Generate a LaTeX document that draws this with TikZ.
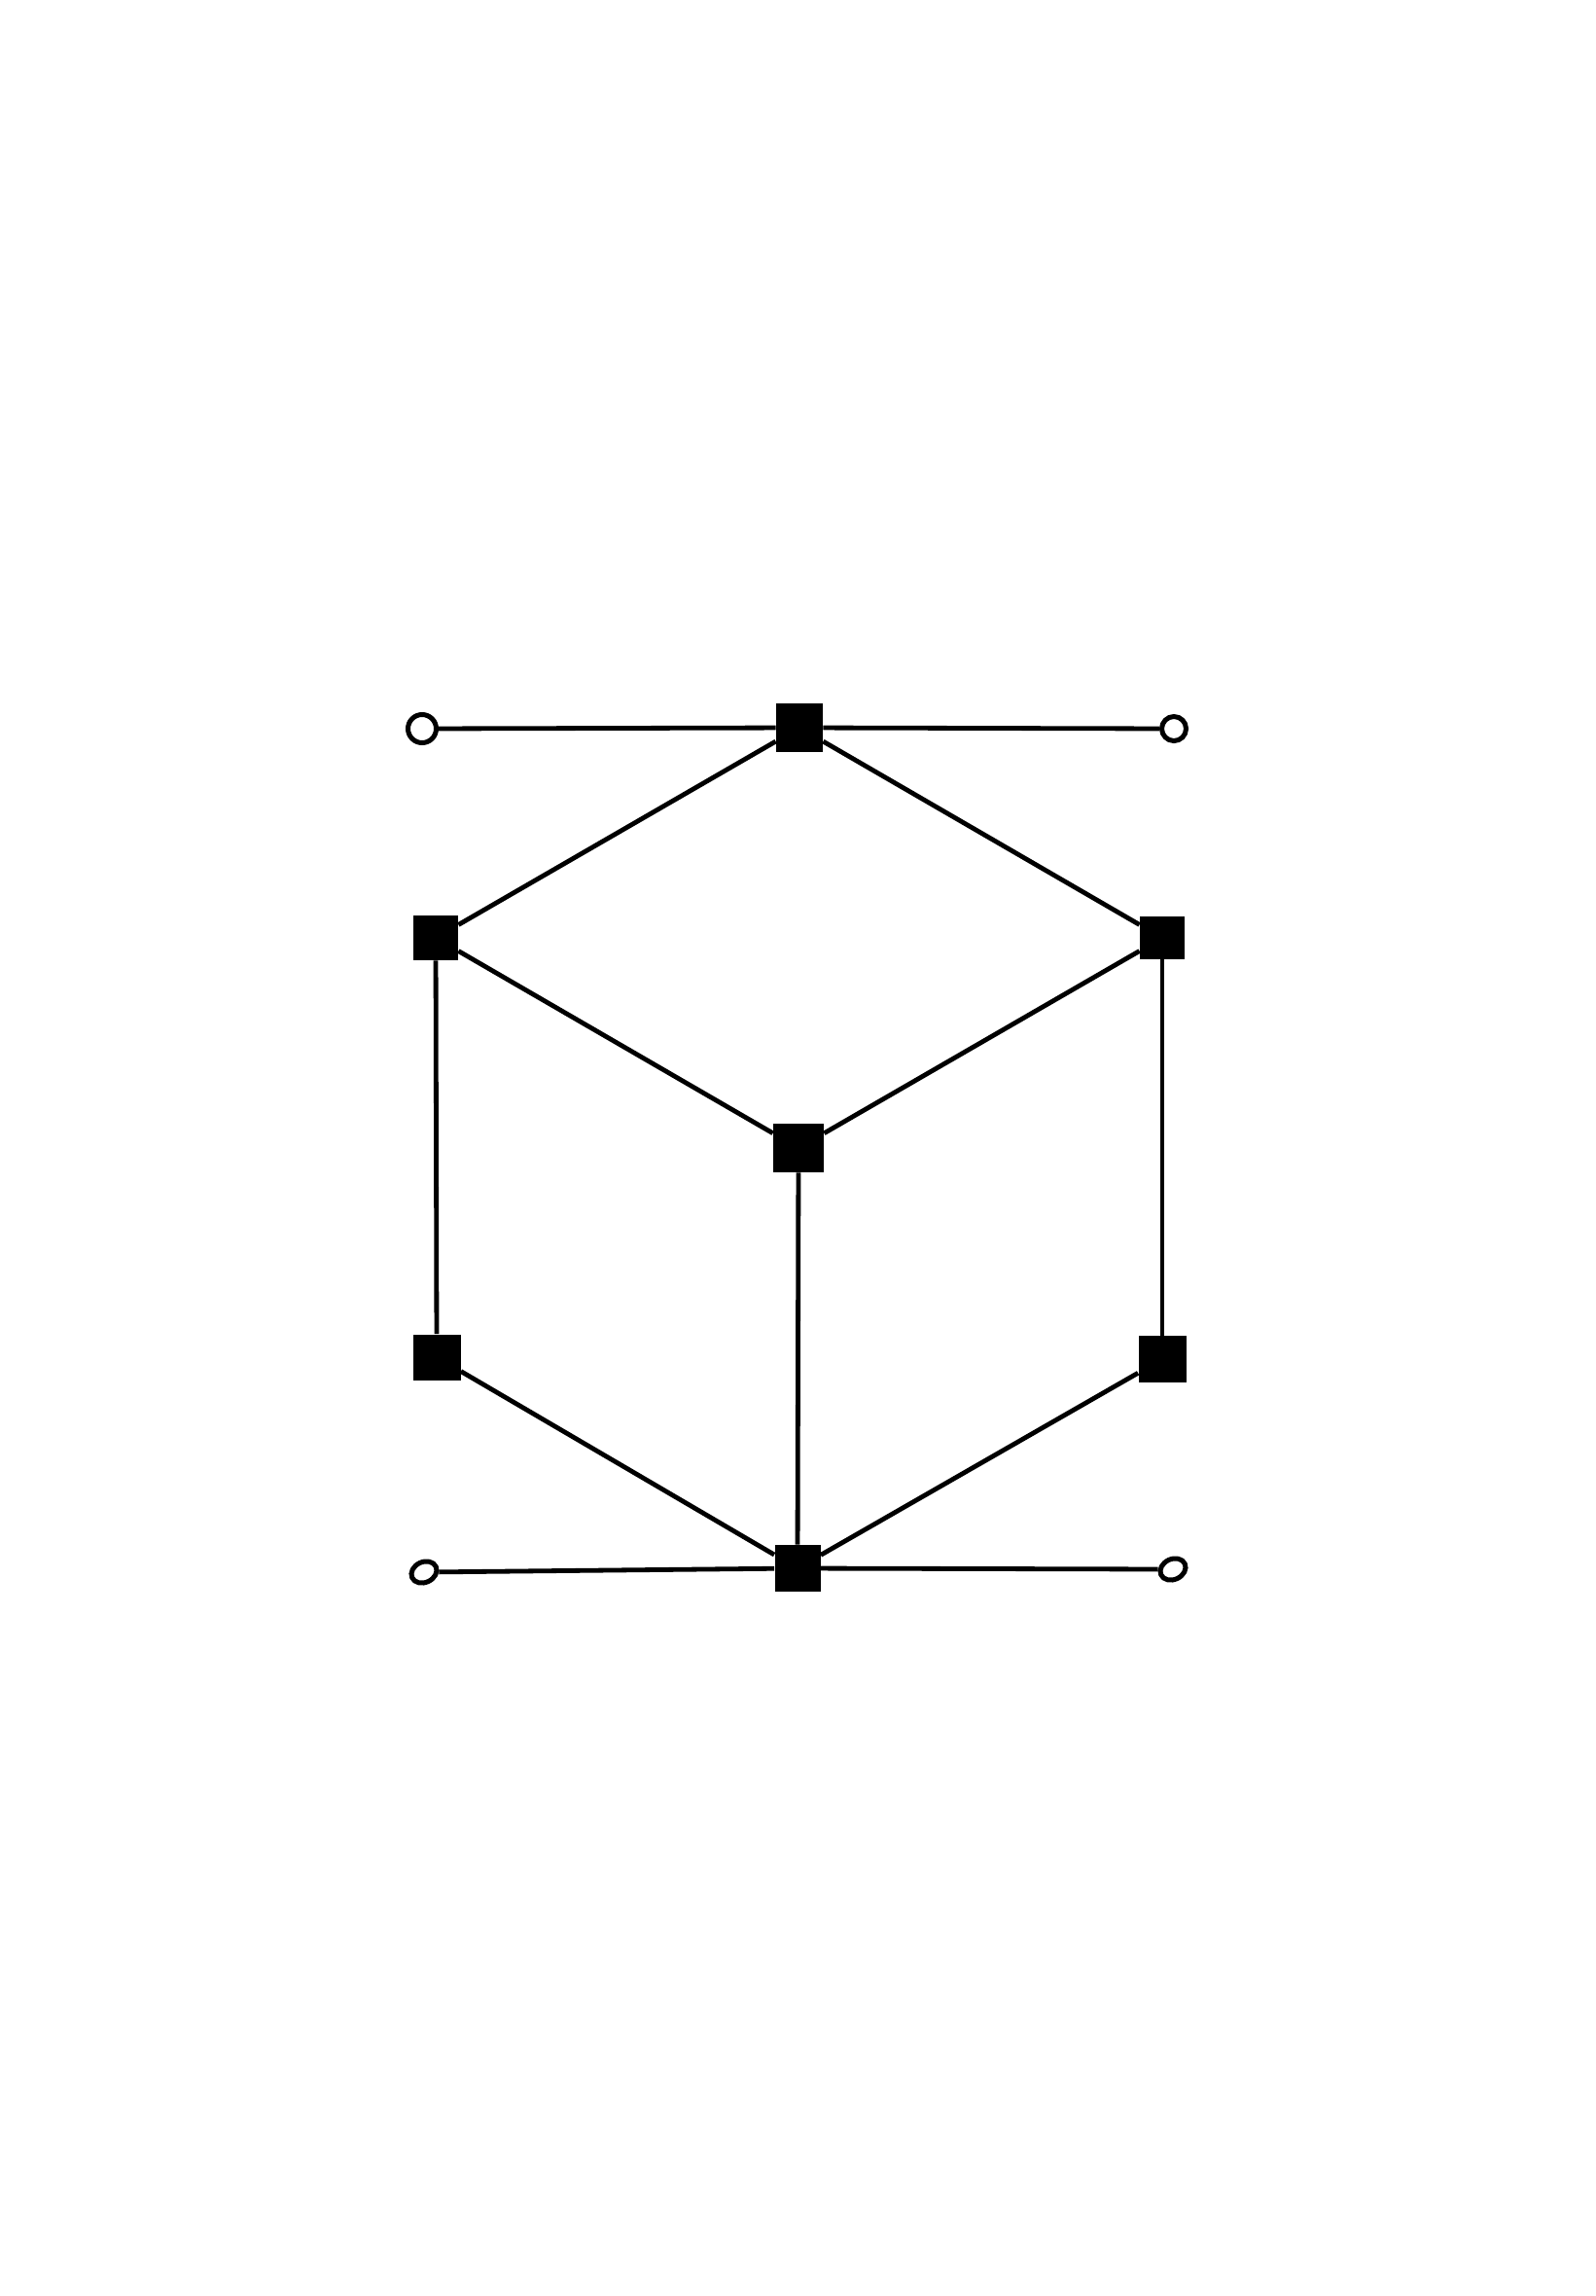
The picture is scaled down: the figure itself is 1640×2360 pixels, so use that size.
\documentclass[tikz,border=0pt]{standalone}
\usetikzlibrary{shapes.geometric}
\begin{document}
\begin{tikzpicture}[x=0.5pt,y=-0.5pt,
  sq/.style={rectangle,fill=black,draw=none,inner sep=0pt},
  term/.style={circle,draw=black,fill=white,line width=2.5pt,inner sep=0pt},
  termel/.style={ellipse,draw=black,fill=white,line width=2.5pt,inner sep=0pt,minimum width=13.5pt,minimum height=10.5pt,rotate=25},
  edge/.style={line width=2.4pt,black}]
\useasboundingbox (0,0) rectangle (1640,2360);
% squares
\node[sq,minimum width=24pt,minimum height=25pt] (t) at (822,748) {};
\node[sq,minimum width=23pt,minimum height=23pt] (lu) at (448,964) {};
\node[sq,minimum width=23pt,minimum height=22pt] (ru) at (1195,964) {};
\node[sq,minimum width=26pt,minimum height=25pt] (c) at (821,1180) {};
\node[sq,minimum width=24.5pt,minimum height=23.5pt] (ll) at (449,1395) {};
\node[sq,minimum width=24.5pt,minimum height=24pt] (rl) at (1195,1397) {};
\node[sq,minimum width=23.5pt,minimum height=24pt] (b) at (820,1612) {};
% terminals
\node[term,minimum size=14.5pt] (tl) at (434,749) {};
\node[term,minimum size=12.5pt] (tr) at (1207,749) {};
\node[termel] (bl) at (436,1616) {};
\node[termel] (br) at (1206,1613) {};
% edges
\draw[edge] (tl) -- (t);
\draw[edge] (t) -- (tr);
\draw[edge] (t) -- (lu);
\draw[edge] (t) -- (ru);
\draw[edge] (lu) -- (c);
\draw[edge] (ru) -- (c);
\draw[edge] (lu) -- (ll);
\draw[edge] (ru) -- (rl);
\draw[edge] (c) -- (b);
\draw[edge] (ll) -- (b);
\draw[edge] (rl) -- (b);
\draw[edge] (bl) -- (b);
\draw[edge] (b) -- (br);
\end{tikzpicture}
\end{document}
